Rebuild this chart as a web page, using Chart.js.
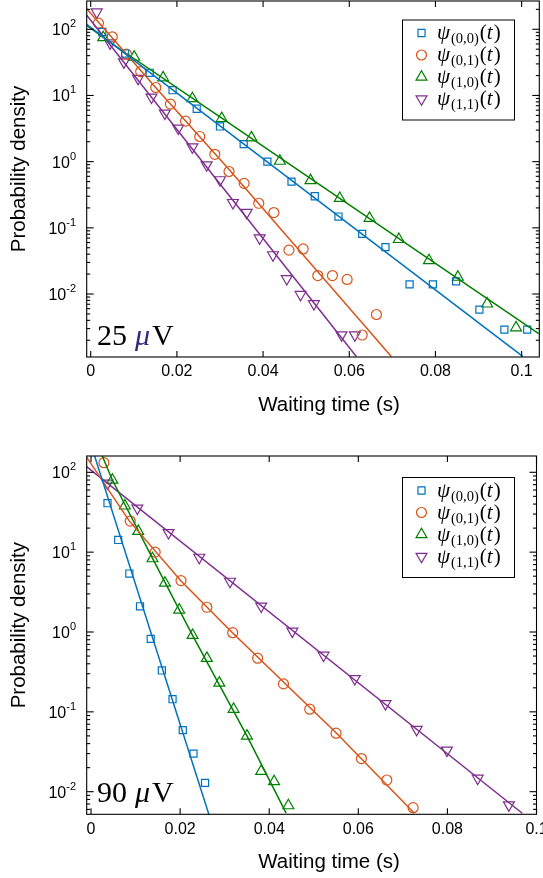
<!DOCTYPE html>
<html>
<head>
<meta charset="utf-8">
<script src="https://cdn.jsdelivr.net/npm/chart.js@4.4.1/dist/chart.umd.min.js"></script>
<style>
  html, body { margin: 0; padding: 0; background: #fff; }
  #wrap { position: relative; width: 543px; height: 878px; }
  canvas { position: absolute; left: 0; }
  #c25 { top: 0; }
  #c90 { top: 430px; }
</style>
</head>
<body>
<div id="wrap">
  <canvas id="c25" width="543" height="430"></canvas>
  <canvas id="c90" width="543" height="448"></canvas>
</div>
<script>
/**
 * Data
 */

const seriesNames = ['(0,0)', '(0,1)', '(1,0)', '(1,1)'];
const colors = ['#0072BD', '#D95319', '#008000', '#7E2F8E'];

const xTickVals = [0, 0.02, 0.04, 0.06, 0.08, 0.1];
const xTickText = ['0', '0.02', '0.04', '0.06', '0.08', '0.1'];
const yDecades = [-2, -1, 0, 1, 2];

// 25 uV panel - measured points
const t25_00 = [0.0027, 0.008, 0.0137, 0.019, 0.0246, 0.030, 0.0355, 0.041, 0.0466, 0.052, 0.0575, 0.063, 0.0684, 0.074, 0.0794, 0.0848, 0.0902, 0.096, 0.1013];
const p25_00 = [91, 43, 22, 12, 6.3, 3.4, 1.84, 1.0, 0.50, 0.30, 0.148, 0.081, 0.051, 0.014, 0.014, 0.0155, 0.0058, 0.0029, 0.0029];
const t25_01 = [0.0018, 0.005, 0.0083, 0.0116, 0.0151, 0.0185, 0.022, 0.0253, 0.0288, 0.0321, 0.0356, 0.039, 0.0425, 0.046, 0.0493, 0.0527, 0.0561, 0.0595, 0.063, 0.0663];
const p25_01 = [124, 77, 42, 23, 13.2, 7.4, 4.1, 2.4, 1.29, 0.71, 0.47, 0.235, 0.17, 0.046, 0.048, 0.019, 0.019, 0.0166, 0.0024, 0.0049];
const t25_10 = [0.0029, 0.0101, 0.0168, 0.0236, 0.0304, 0.0373, 0.0439, 0.051, 0.0578, 0.0647, 0.0715, 0.0785, 0.0852, 0.092, 0.0987];
const p25_10 = [75, 38, 18.6, 9, 4.5, 2.3, 1.02, 0.52, 0.28, 0.14, 0.067, 0.032, 0.018, 0.0071, 0.0031];
const t25_11 = [0.0014, 0.0045, 0.0077, 0.011, 0.0141, 0.0172, 0.0203, 0.0236, 0.0269, 0.030, 0.033, 0.0362, 0.0392, 0.0423, 0.0455, 0.0487, 0.0518, 0.0582, 0.0613];
const p25_11 = [182, 62, 32, 18, 9.4, 5.4, 3.2, 1.66, 0.89, 0.53, 0.24, 0.17, 0.07, 0.039, 0.017, 0.0098, 0.0071, 0.0024, 0.0024];

// 25 uV panel - fitted curves
const ft25_00 = [-0.00093, 0.10025];
const fp25_00 = [119, 0.00114];
const ft25_01 = [-0.00093, 0.01506, 0.03221, 0.06976];
const fp25_01 = [205, 13.2, 0.746, 0.00114];
const ft25_10 = [-0.00093, 0.00447, 0.0305, 0.10396];
const fp25_10 = [115, 63.7, 4.5, 0.00251];
const ft25_11 = [-0.00093, 0.06164];
const fp25_11 = [163, 0.00114];

// 90 uV panel - measured points
const t90_00 = [0.0037, 0.0061, 0.0086, 0.011, 0.0134, 0.0159, 0.0183, 0.0206, 0.023, 0.0256];
const p90_00 = [41, 14.2, 5.4, 2.1, 0.82, 0.33, 0.144, 0.059, 0.030, 0.0129];
const t90_01 = [0.0029, 0.0088, 0.0144, 0.0202, 0.026, 0.0318, 0.0374, 0.0432, 0.0491, 0.055, 0.0607, 0.0664, 0.0723];
const p90_01 = [132, 24.5, 10, 4.4, 2.04, 0.98, 0.47, 0.224, 0.108, 0.054, 0.026, 0.014, 0.0063];
const t90_10 = [0.0048, 0.0076, 0.0106, 0.0138, 0.0166, 0.0198, 0.0228, 0.026, 0.0288, 0.032, 0.035, 0.0382, 0.0411, 0.0443];
const p90_10 = [80, 38, 18.3, 8.3, 4.1, 1.89, 0.91, 0.47, 0.23, 0.108, 0.050, 0.018, 0.0134, 0.0067];
const t90_11 = [0.0037, 0.0104, 0.0174, 0.0243, 0.0312, 0.0382, 0.0452, 0.0522, 0.0592, 0.0661, 0.0731, 0.0799, 0.0868, 0.0938];
const p90_11 = [73, 35.5, 17.5, 8.6, 4.3, 2.1, 1.02, 0.51, 0.26, 0.126, 0.06, 0.033, 0.0147, 0.0068];

// 90 uV panel - fitted curves
const ft90_00 = [-0.001, 0.028];
const fp90_00 = [331, 0.00279];
const ft90_01 = [-0.001, 0.00854, 0.02016, 0.03175, 0.05506, 0.07258];
const fp90_01 = [155, 24.8, 4.39, 0.98, 0.0543, 0.00537];
const ft90_10 = [0.0015, 0.00479, 0.01378, 0.02276, 0.035, 0.0438];
const fp90_10 = [219, 80, 8.4, 0.916, 0.050, 0.0054];
const ft90_11 = [-0.001, 0.0968];
const fp90_11 = [117.5, 0.00537];

const markers = [
  { style: 'rect', radius: 5, rotation: 0 },
  { style: 'circle', radius: 5, rotation: 0 },
  { style: 'triangle', radius: 6.3, rotation: 0 },
  { style: 'triangle', radius: 6.3, rotation: 180 },
];

const sansFont = '"Liberation Sans", Arial, Helvetica, sans-serif';
const serifFont = '"Liberation Serif", "Times New Roman", serif';

function pts(ts, ps) {
  return ts.map((t, i) => ({ x: t, y: ps[i] }));
}

// frame, inward ticks, labels, legend and panel tag
const decoPlugin = {
  id: 'deco',
  afterDatasetsDraw(chart, args, o) {
    const { ctx, chartArea: a, scales: { x, y } } = chart;
    ctx.save();
    ctx.strokeStyle = '#000';
    ctx.lineWidth = 1.1;
    ctx.strokeRect(a.left, a.top, a.right - a.left, a.bottom - a.top);

    const seg = (x1, y1, x2, y2) => {
      ctx.beginPath(); ctx.moveTo(x1, y1); ctx.lineTo(x2, y2); ctx.stroke();
    };

    // x ticks (bottom and top)
    xTickVals.forEach(v => {
      const px = x.getPixelForValue(v);
      seg(px, a.bottom, px, a.bottom - 6);
      seg(px, a.top, px, a.top + 6);
    });

    // y ticks: decades + minors
    for (let d = -4; d <= 3; d++) {
      for (let m = 1; m <= 9; m++) {
        const v = m * Math.pow(10, d);
        if (v < y.min || v > y.max) continue;
        const py = y.getPixelForValue(v);
        const len = m === 1 ? 7 : 3.5;
        seg(a.left, py, a.left + len, py);
        seg(a.right, py, a.right - len, py);
      }
    }

    // x tick labels
    ctx.fillStyle = '#000';
    ctx.font = '16px ' + sansFont;
    ctx.textAlign = 'center';
    ctx.textBaseline = 'middle';
    xTickVals.forEach((v, i) => {
      ctx.fillText(xTickText[i], x.getPixelForValue(v), a.bottom + 15);
    });

    // y tick labels 10^n
    ctx.textBaseline = 'alphabetic';
    yDecades.forEach(d => {
      const v = Math.pow(10, d);
      if (v < y.min || v > y.max) return;
      const py = y.getPixelForValue(v);
      const exp = String(d);
      ctx.font = '11px ' + sansFont;
      const we = ctx.measureText(exp).width;
      ctx.textAlign = 'left';
      ctx.fillText(exp, 76 - we, py - 2);
      ctx.font = '16px ' + sansFont;
      ctx.textAlign = 'right';
      ctx.fillText('10', 76 - we, py + 6);
    });

    // axis titles
    ctx.font = '20.5px ' + sansFont;
    ctx.textAlign = 'center';
    ctx.textBaseline = 'middle';
    ctx.fillText('Waiting time (s)', 329, a.bottom + 48);
    ctx.save();
    ctx.translate(19, (a.top + a.bottom) / 2 - 10);
    ctx.rotate(-Math.PI / 2);
    ctx.fillText('Probability density', 0, 0);
    ctx.restore();

    // panel tag, e.g. "25 μV"
    ctx.textAlign = 'left';
    ctx.textBaseline = 'alphabetic';
    let tx = 97;
    const ty = a.bottom - 12;
    ctx.font = '30px ' + serifFont;
    ctx.fillText(o.tag, tx, ty);
    tx += ctx.measureText(o.tag).width + 8;
    ctx.font = 'italic 30px ' + serifFont;
    ctx.fillStyle = o.muColor;
    ctx.fillText('\u03bc', tx, ty);
    tx += ctx.measureText('\u03bc').width + 2;
    ctx.fillStyle = '#000';
    ctx.font = '30px ' + serifFont;
    ctx.fillText('V', tx, ty);

    // legend
    const bx = 402.5, by = o.legendTop, bw = 112, bh = 100;
    ctx.fillStyle = '#fff';
    ctx.fillRect(bx, by, bw, bh);
    ctx.strokeStyle = '#000';
    ctx.lineWidth = 1;
    ctx.strokeRect(bx, by, bw, bh);
    seriesNames.forEach((name, i) => {
      const ry = by + 13 + i * 22;
      ctx.strokeStyle = colors[i];
      ctx.fillStyle = 'rgba(0,0,0,0)';
      ctx.lineWidth = 1.2;
      Chart.helpers.drawPoint(ctx, {
        pointStyle: markers[i].style,
        radius: markers[i].radius,
        rotation: markers[i].rotation,
        borderWidth: 1.2,
      }, 421.5, ry);
      ctx.fillStyle = '#000';
      let lx = 437;
      const base = ry + 6;
      ctx.font = 'italic 21px ' + serifFont;
      ctx.fillText('\u03c8', lx, base);
      lx += ctx.measureText('\u03c8').width + 1;
      ctx.font = '14.5px ' + serifFont;
      ctx.fillText(name, lx, base + 4);
      lx += ctx.measureText(name).width + 1;
      ctx.font = '21px ' + serifFont;
      ctx.fillText('(', lx, base);
      lx += ctx.measureText('(').width;
      ctx.font = 'italic 21px ' + serifFont;
      ctx.fillText('t', lx, base);
      lx += ctx.measureText('t').width + 1;
      ctx.font = '21px ' + serifFont;
      ctx.fillText(')', lx, base);
    });

    ctx.restore();
  }
};

function makePanel(id, measured, fits, cfg) {
  const datasets = [];
  measured.forEach((s, i) => {
    datasets.push({
      label: 'psi' + seriesNames[i],
      data: pts(s[0], s[1]),
      showLine: false,
      pointStyle: markers[i].style,
      pointRadius: markers[i].radius,
      pointRotation: markers[i].rotation,
      pointBorderWidth: 1.2,
      borderColor: colors[i],
      backgroundColor: 'rgba(0,0,0,0)',
      order: 2,
    });
  });
  fits.forEach((f, i) => {
    datasets.push({
      label: 'fit' + seriesNames[i],
      data: pts(f[0], f[1]),
      showLine: true,
      pointRadius: 0,
      borderColor: colors[i],
      borderWidth: 1.5,
      tension: 0,
      order: 1,
    });
  });

  return new Chart(document.getElementById(id), {
    type: 'scatter',
    data: { datasets },
    options: {
      responsive: false,
      animation: false,
      devicePixelRatio: 1,
      layout: { padding: cfg.padding, autoPadding: false },
      scales: {
        x: { type: 'linear', display: false, min: cfg.xMin, max: cfg.xMax },
        y: { type: 'logarithmic', display: false, min: cfg.yMin, max: cfg.yMax },
      },
      plugins: {
        legend: { display: false },
        tooltip: { enabled: false },
        deco: { tag: cfg.tag, muColor: cfg.muColor, legendTop: cfg.legendTop },
      },
    },
    plugins: [decoPlugin],
  });
}

document.addEventListener('DOMContentLoaded', function () {
  makePanel('c25',
    [[t25_00, p25_00], [t25_01, p25_01], [t25_10, p25_10], [t25_11, p25_11]],
    [[ft25_00, fp25_00], [ft25_01, fp25_01], [ft25_10, fp25_10], [ft25_11, fp25_11]],
    {
      padding: { left: 86.7, right: 3.7, top: 1, bottom: 73 },
      xMin: -0.00093, xMax: 0.1041,
      yMin: 0.001117, yMax: 267.6,
      tag: '25', muColor: '#2c2a7c', legendTop: 20,
    });

  makePanel('c90',
    [[t90_00, p90_00], [t90_01, p90_01], [t90_10, p90_10], [t90_11, p90_11]],
    [[ft90_00, fp90_00], [ft90_01, fp90_01], [ft90_10, fp90_10], [ft90_11, fp90_11]],
    {
      padding: { left: 86.7, right: 6.5, top: 26, bottom: 63.7 },
      xMin: -0.00097, xMax: 0.1,
      yMin: 0.00521, yMax: 160,
      tag: '90', muColor: '#000', legendTop: 47.5,
    });
});
</script>
</body>
</html>
